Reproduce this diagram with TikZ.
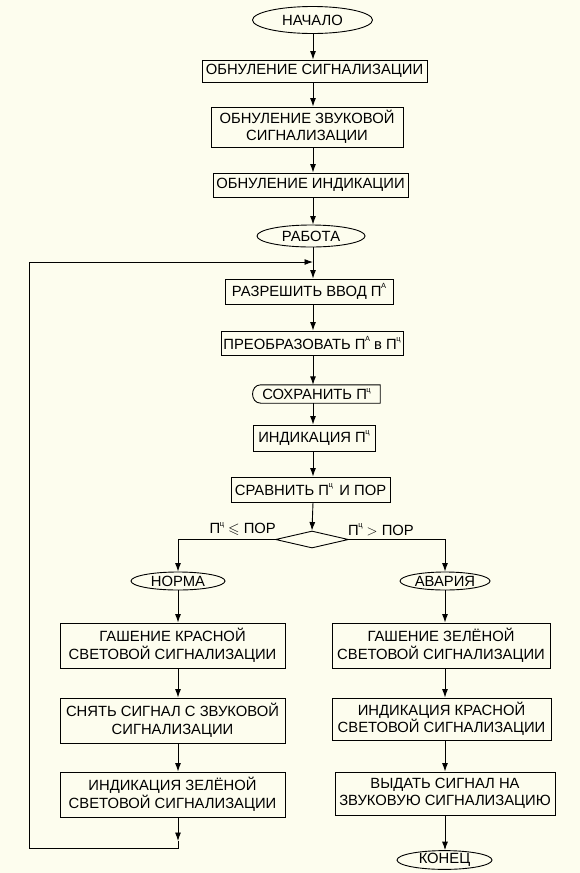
\documentclass[tikz,border=0pt]{standalone}
\usepackage{amssymb}
\usepackage{fontspec}
\setmainfont{Liberation Sans}
\usetikzlibrary{arrows.meta,shapes.geometric,calc}
\definecolor{bg}{RGB}{253,253,238}
\newcommand{\Psup}[1]{П\kern-0.5pt\raisebox{0.95ex}{\fontsize{7.5}{7.5}\selectfont #1}}
\begin{document}
\begin{tikzpicture}[x=1pt,y=-1pt,
  every node/.style={font=\fontsize{14.8}{17.5}\selectfont, inner sep=0pt, align=center},
  blk/.style={draw, line width=0.9pt, rectangle},
  term/.style={draw, line width=0.9pt, ellipse},
  arr/.style={line width=0.9pt, -{Latex[length=8.5pt,width=6pt]}},
  ln/.style={line width=0.9pt}]
\fill[bg] (0,0) rectangle (580,873);
\useasboundingbox (0,0) rectangle (580,873);
\coordinate (ax) at (313,0);
\coordinate (lx) at (178,0);
\coordinate (rx) at (445,0);

\node[term, minimum width=120pt, minimum height=27pt] (start) at (312.5,20) {НАЧАЛО};
\node[blk, minimum width=225pt, minimum height=22pt] (b1) at (314.5,71) {ОБНУЛЕНИЕ СИГНАЛИЗАЦИИ};
\node[blk, minimum width=192pt, minimum height=40pt] (b2) at (307,127) {ОБНУЛЕНИЕ ЗВУКОВОЙ\\СИГНАЛИЗАЦИИ};
\node[blk, minimum width=195pt, minimum height=24pt] (b3) at (310.5,185) {ОБНУЛЕНИЕ ИНДИКАЦИИ};
\node[term, minimum width=108pt, minimum height=22pt] (work) at (311,236) {РАБОТА};
\node[blk, minimum width=168pt, minimum height=25pt] (b4) at (309,291.5) {РАЗРЕШИТЬ ВВОД \Psup{А}};
\node[blk, minimum width=182pt, minimum height=24pt] (b5) at (312,343) {ПРЕОБРАЗОВАТЬ \Psup{А} в \Psup{ц}};
\node[minimum width=127pt, minimum height=18pt, xshift=3pt] (b6) at (313.5,394) {СОХРАНИТЬ \Psup{ц}};
\draw[ln] ([xshift=8pt]b6.north west) -- (b6.north east) -- (b6.south east) -- ([xshift=8pt]b6.south west)
  .. controls ([xshift=-3pt]b6.south west) and ([xshift=-3pt]b6.north west) .. ([xshift=8pt]b6.north west);
\node[blk, minimum width=122pt, minimum height=26pt] (b7) at (314,438) {ИНДИКАЦИЯ \Psup{ц}};
\node[blk, minimum width=159pt, minimum height=25pt] (b8) at (310.5,489.5) {СРАВНИТЬ \Psup{ц}\, И ПОР};
\node[draw, line width=0.9pt, diamond, minimum width=73pt, minimum height=17pt] (dec) at (312,539.5) {};
\node[anchor=south east] (lcond) at (276,536) {\Psup{ц} $\leqslant$ ПОР};
\node[anchor=south west] (rcond) at (348,536) {\Psup{ц} $>$ ПОР};

\node[term, minimum width=94pt, minimum height=18pt] (norma) at (178,581) {НОРМА};
\node[term, minimum width=90pt, minimum height=18pt] (avar) at (445,581) {АВАРИЯ};

\node[blk, minimum width=225pt, minimum height=45pt] (l1) at (172.5,645.5) {ГАШЕНИЕ КРАСНОЙ\\СВЕТОВОЙ СИГНАЛИЗАЦИИ};
\node[blk, minimum width=225pt, minimum height=45pt] (l2) at (172.5,720.5) {СНЯТЬ СИГНАЛ С ЗВУКОВОЙ\\СИГНАЛИЗАЦИИ};
\node[blk, minimum width=225pt, minimum height=45pt] (l3) at (172.5,794.5) {ИНДИКАЦИЯ ЗЕЛЁНОЙ\\СВЕТОВОЙ СИГНАЛИЗАЦИИ};

\node[blk, minimum width=218pt, minimum height=45pt] (r1) at (441,645.5) {ГАШЕНИЕ ЗЕЛЁНОЙ\\СВЕТОВОЙ СИГНАЛИЗАЦИИ};
\node[blk, minimum width=219pt, minimum height=42pt] (r2) at (441.5,719) {ИНДИКАЦИЯ КРАСНОЙ\\СВЕТОВОЙ СИГНАЛИЗАЦИИ};
\node[blk, minimum width=220pt, minimum height=43pt] (r3) at (445,793.5) {ВЫДАТЬ СИГНАЛ НА\\ЗВУКОВУЮ СИГНАЛИЗАЦИЮ};
\node[term, minimum width=95pt, minimum height=18pt] (end) at (444.5,860) {КОНЕЦ};

% main column
\draw[arr] (start.south -| ax) -- (b1.north -| ax);
\draw[arr] (b1.south -| ax) -- (b2.north -| ax);
\draw[arr] (b2.south -| ax) -- (b3.north -| ax);
\draw[arr] (b3.south -| ax) -- (work.north -| ax);
\draw[arr] (work.south -| ax) -- (b4.north -| ax);
\draw[arr] (b4.south -| ax) -- (b5.north -| ax);
\draw[arr] (b5.south -| ax) -- (b6.north -| ax);
\draw[arr] (b6.south -| ax) -- (b7.north -| ax);
\draw[arr] (b7.south -| ax) -- (b8.north -| ax);
\draw[arr] (b8.south -| ax) -- (dec.north);

% branches
\draw[arr] (dec.west) -| (norma.north);
\draw[arr] (dec.east) -| (avar.north);
\draw[arr] (norma.south) -- (l1.north -| lx);
\draw[arr] (l1.south -| lx) -- (l2.north -| lx);
\draw[arr] (l2.south -| lx) -- (l3.north -| lx);
\draw[arr] (avar.south) -- (r1.north -| rx);
\draw[arr] (r1.south -| rx) -- (r2.north -| rx);
\draw[arr] (r2.south -| rx) -- (r3.north -| rx);
\draw[arr] (r3.south -| rx) -- (end.north -| rx);

% loop back
\coordinate (c1) at (178,848);
\coordinate (c2) at (29,848);
\coordinate (c3) at (29,262);
\coordinate (c4) at (313,262);
\coordinate (c0) at (178,841);
\draw[arr] (l3.south -| lx) -- (c0);
\draw[ln] (c0) -- (c1) -- (c2) -- (c3);
\draw[arr] (c3) -- (c4);
\end{tikzpicture}
\end{document}
